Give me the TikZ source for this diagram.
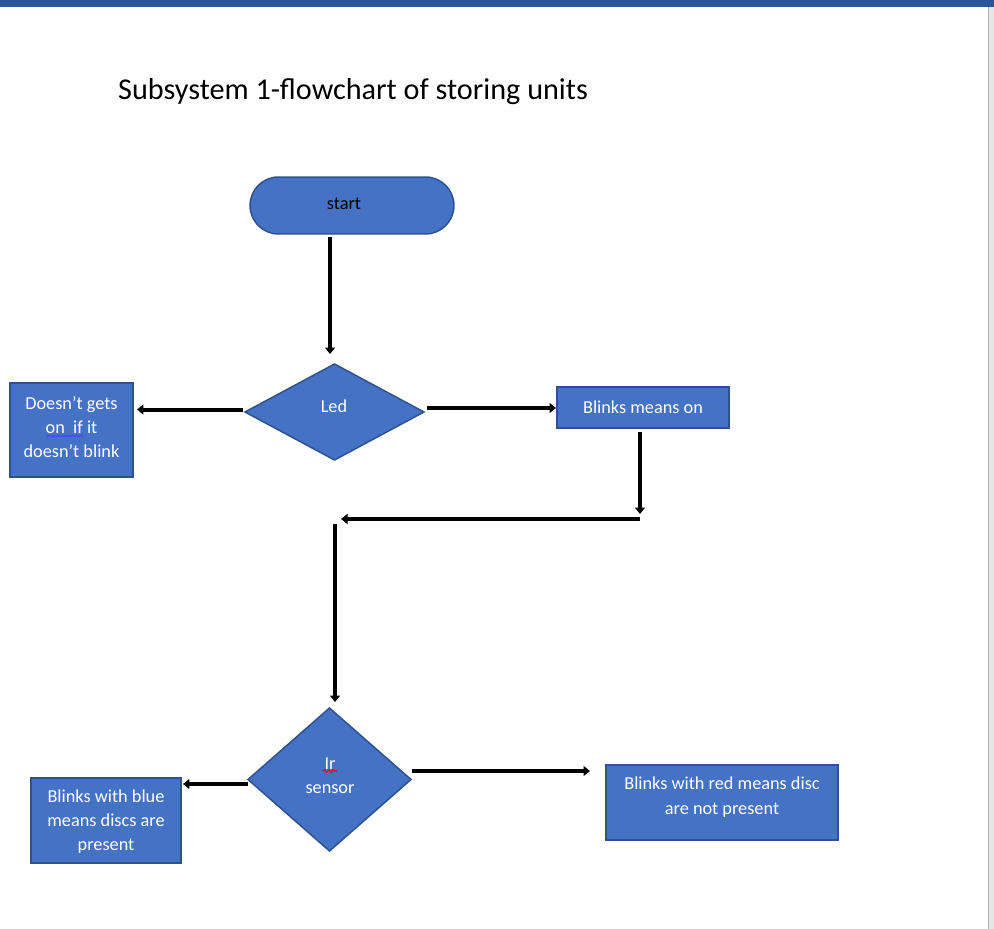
\documentclass[tikz,border=0pt]{standalone}
\usepackage{fontspec}
\setmainfont{Carlito}
\usepackage{xcolor}
\usepackage{tikz}
\usetikzlibrary{shapes.geometric,arrows.meta,decorations.pathmorphing}

\definecolor{boxblue}{HTML}{4472C4}
\definecolor{boxedge}{HTML}{2F528F}
\definecolor{wordbar}{HTML}{2B579A}
\definecolor{sidebar}{HTML}{E6E6E6}

\tikzset{
  flowbox/.style={draw=boxedge, fill=boxblue, line width=0.03cm, text=white,
    align=center, inner sep=0pt, outer sep=0pt, font=\fontsize{10.4}{13.6}\selectfont},
  flowdiamond/.style={flowbox, diamond},
  flowtext/.style={text=white, align=center, inner sep=0pt, font=\fontsize{10.4}{13.6}\selectfont},
  flowarrow/.style={line width=0.08cm, -{Triangle[width=0.2cm,length=0.13cm]}}
}

\begin{document}
\begin{tikzpicture}[x=0.02cm, y=-0.02cm]
                % page and window frame
                \useasboundingbox (0,0) rectangle (994,929);
                \fill[white] (0,0) rectangle (994,929);
                \fill[wordbar] (0,0) rectangle (994,7);
                \fill[sidebar] (988,7) rectangle (994,929);
                \draw[gray!60, line width=0.03cm] (988.5,7) -- (988.5,929);

                % Title
                \node[anchor=base west, font=\fontsize{17.2}{20}\selectfont] (title) at (112,100) {Subsystem 1-flowchart of storing units};

                % Flow nodes
                \node[flowbox, rounded corners=0.57cm, minimum width=4.08cm, minimum height=1.14cm] (start) at (352,205.5) {};
                \node[flowtext, text=black] (starttext) at (344,204) {start};
                \node[flowdiamond, minimum width=3.58cm, minimum height=1.92cm] (led) at (334.5,412) {};
                \node[flowtext] (ledtext) at (334,406) {Led};
                \node[flowbox, minimum width=2.46cm, minimum height=1.88cm] (fail) at (71.5,430) {};
                \node[flowtext] (failtext) at (71.5,427) {Doesn’t gets\\on~~if it\\doesn’t blink};
                \node[flowbox, minimum width=3.44cm, minimum height=0.82cm] (on) at (643,407.5) {Blinks means on};
                \node[flowdiamond, minimum width=3.26cm, minimum height=2.86cm] (ir) at (329.5,779.5) {};
                \node[flowtext] (irtext) at (330,776) {Ir\\sensor};
                \node[flowbox, minimum width=3.0cm, minimum height=1.7cm] (blue) at (106,820.5) {};
                \node[flowtext] (bluetext) at (106,821.5) {Blinks with blue\\means discs are\\present};
                \node[flowbox, minimum width=4.64cm, minimum height=1.5cm] (red) at (722,802.5) {};
                \node[flowtext, font=\fontsize{10.4}{14.2}\selectfont] (redtext) at (722,797) {Blinks with red means disc\\are not present};

                % Spelling marks
                \draw[blue!70!white, line width=0.03cm] (46,436) -- (83,436);
                \draw[red, line width=0.025cm, decorate, decoration={snake, amplitude=0.025cm, segment length=0.09cm}] (323,771) -- (337,771);

                % Bend points
                \coordinate (bendR) at (640,519);
                \coordinate (bendL) at (335,519);

                % Connectors
                \draw[flowarrow, shorten <=0.06cm, shorten >=0.2cm] ([xshift=-0.09cm]led.north |- start.south) -- ([xshift=-0.09cm]led.north);
                \draw[flowarrow, shorten <=0.04cm, shorten >=0.08cm] ([yshift=0.05cm]led.west) -- ([yshift=0.05cm]led.west -| fail.east);
                \draw[flowarrow, shorten <=0.06cm, shorten >=0.02cm] ([yshift=0.08cm]led.east) -- ([yshift=0.08cm]led.east -| on.west);
                \draw[flowarrow, shorten <=0.08cm, shorten >=0.1cm] (bendR |- on.south) -- (bendR);
                \draw[flowarrow, shorten >=0.12cm] (bendR) -- (bendL);
                \draw[flowarrow, shorten <=0.1cm, shorten >=0.12cm] (bendL) -- (bendL |- ir.north);
                \draw[flowarrow, shorten >=0.04cm] ([yshift=-0.09cm]ir.west) -- ([yshift=-0.09cm]ir.west -| blue.east);
                \draw[flowarrow, shorten <=0.02cm, shorten >=0.32cm] ([yshift=0.17cm]ir.east) -- ([yshift=0.17cm]ir.east -| red.west);
\end{tikzpicture}
\end{document}
